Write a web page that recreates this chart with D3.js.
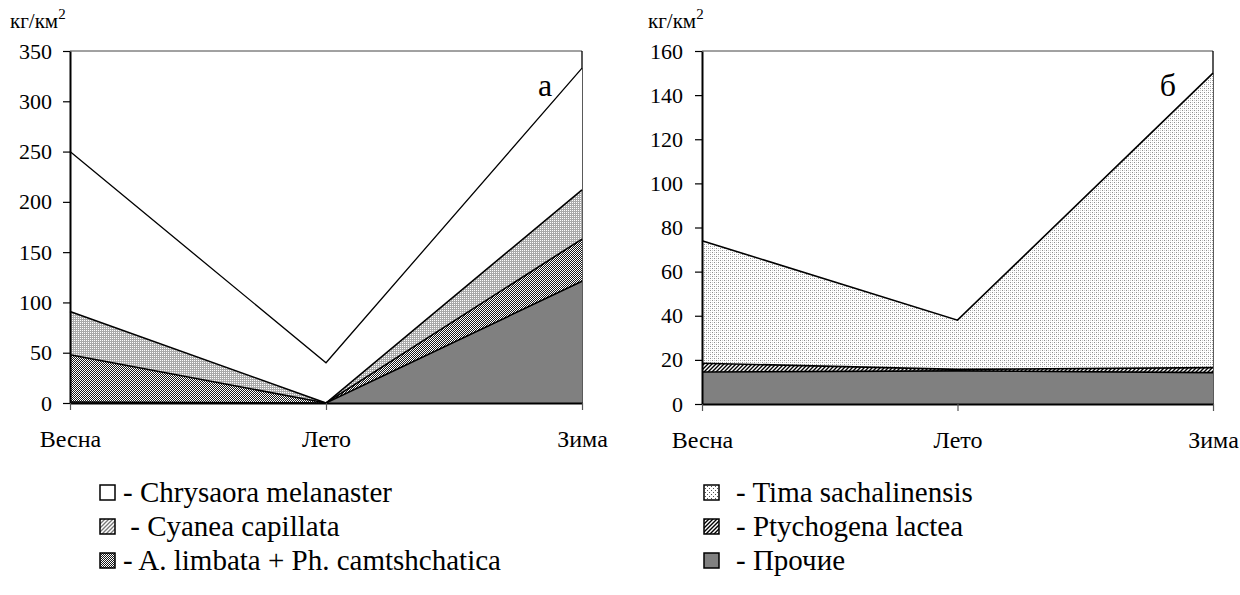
<!DOCTYPE html>
<html>
<head>
<meta charset="utf-8">
<script src="https://cdn.jsdelivr.net/npm/d3@7"></script>
<style>
  body { margin: 0; background: #fff; }
  svg { display: block; }
  text { font-family: "Liberation Serif", "Times New Roman", serif; fill: #000; }
</style>
</head>
<body>
<svg id="chart" width="1240" height="595" font-family="Liberation Serif, serif"></svg>
<script>
// Seasons on the category axis
const seasons = ["Весна", "Лето", "Зима"];

// Panel "а": biomass by group, kg/km² (stacked bottom → top)
const otherA     = [1, 0, 121];
const limbata    = [47, 0, 42];
const cyanea     = [43, 0, 49];
const chrysaora  = [159, 40, 121];
const ticksA     = [0, 50, 100, 150, 200, 250, 300, 350];

// Panel "б": biomass by group, kg/km² (stacked bottom → top)
const otherB     = [14.5, 15, 14.2];
const ptychogena = [4, 0.7, 2.3];
const tima       = [55.5, 22.3, 133.5];
const ticksB     = [0, 20, 40, 60, 80, 100, 120, 140, 160];

const legendA = ["- Chrysaora melanaster", " - Cyanea capillata", "- A. limbata + Ph. camtshchatica"];
const legendB = ["- Tima sachalinensis", "- Ptychogena lactea", "- Прочие"];

const svg = d3.select("#chart");
const defs = svg.append("defs");

// Fill patterns
function pattern(id, size, draw) {
  const p = defs.append("pattern").attr("id", id)
    .attr("patternUnits", "userSpaceOnUse")
    .attr("width", size).attr("height", size);
  draw(p);
}
function px(p, x, y, c) {
  p.append("rect").attr("x", x).attr("y", y).attr("width", 1).attr("height", 1)
    .attr("fill", c).attr("shape-rendering", "crispEdges");
}
pattern("fCyanea", 2, p => {
  p.append("rect").attr("width", 2).attr("height", 2).attr("fill", "#a9a9a9");
  px(p, 0, 0, "#ffffff");
});
pattern("fLimbata", 2, p => {
  p.append("rect").attr("width", 2).attr("height", 2).attr("fill", "#1a1a1a");
  px(p, 0, 0, "#ffffff");
  px(p, 1, 1, "#ffffff");
});
pattern("fTima", 4, p => {
  p.append("rect").attr("width", 4).attr("height", 4).attr("fill", "#ffffff");
  px(p, 0, 0, "#8e8e8e");
  px(p, 2, 2, "#8e8e8e");
  px(p, 2, 0, "#cccccc");
  px(p, 0, 2, "#cccccc");
});
pattern("fPtych", 4, p => {
  p.append("rect").attr("width", 4).attr("height", 4).attr("fill", "#ffffff");
  p.append("path").attr("d", "M-1,1 L1,-1 M0,4 L4,0 M3,5 L5,3")
    .attr("stroke", "#000").attr("stroke-width", 1.4);
});
pattern("fCyaneaIcon", 4, p => {
  p.append("rect").attr("width", 4).attr("height", 4).attr("fill", "#ffffff");
  p.append("path").attr("d", "M-1,1 L1,-1 M0,4 L4,0 M3,5 L5,3")
    .attr("stroke", "#777").attr("stroke-width", 1.3);
});
pattern("fTimaIcon", 4, p => {
  p.append("rect").attr("width", 4).attr("height", 4).attr("fill", "#ffffff");
  px(p, 1, 0, "#555");
  px(p, 3, 2, "#555");
});

const SERIF = "Liberation Serif, Times New Roman, serif";

function panel(cfg) {
  const g = svg.append("g");
  const x = d3.scalePoint().domain(seasons).range([cfg.x0, cfg.x1]);
  const y = d3.scaleLinear().domain([0, cfg.max]).range([cfg.y0, cfg.y1]);

  const rows = seasons.map((s, i) => {
    const r = { season: s };
    cfg.series.forEach(se => { r[se.key] = se.values[i]; });
    return r;
  });
  const stack = d3.stack().keys(cfg.series.map(s => s.key));
  const layers = stack(rows);

  const area = d3.area()
    .x(d => x(d.data.season))
    .y0(d => y(d[0]))
    .y1(d => y(d[1]));
  const top = d3.line()
    .x(d => x(d.data.season))
    .y(d => y(d[1]));

  // plot frame (top and right edges)
  g.append("line").attr("x1", cfg.x0).attr("x2", cfg.x1)
    .attr("y1", y(cfg.max)).attr("y2", y(cfg.max))
    .attr("stroke", "#444").attr("stroke-width", 1);
  g.append("line").attr("x1", cfg.x1).attr("x2", cfg.x1)
    .attr("y1", y(cfg.max)).attr("y2", cfg.y0)
    .attr("stroke", "#000").attr("stroke-width", 1.3);

  layers.forEach((L, i) => {
    g.append("path").datum(L).attr("d", area)
      .attr("fill", cfg.series[i].fill).attr("stroke", "none");
  });
  layers.forEach((L, i) => {
    g.append("path").datum(L).attr("d", top)
      .attr("fill", "none").attr("stroke", "#000")
      .attr("stroke-width", cfg.series[i].lw || 1.6)
      .attr("stroke-linejoin", "miter");
  });

  // value axis
  const ay = g.append("g").attr("transform", `translate(${cfg.x0},0)`)
    .call(d3.axisLeft(y).tickValues(cfg.ticks).tickSize(7).tickSizeOuter(0).tickPadding(cfg.pad));
  ay.attr("font-family", SERIF).attr("font-size", 22);
  ay.select(".domain").attr("stroke", "#000").attr("stroke-width", 2);
  ay.selectAll(".tick line").attr("stroke", "#000").attr("stroke-width", 1.2);

  // category axis
  const ax = g.append("g").attr("transform", `translate(0,${cfg.y0})`)
    .call(d3.axisBottom(x).tickSize(7).tickSizeOuter(0).tickPadding(20));
  ax.attr("font-family", SERIF).attr("font-size", 24);
  ax.select(".domain").attr("stroke", "#000").attr("stroke-width", 2);
  ax.selectAll(".tick line").attr("stroke", "#555").attr("stroke-width", 1.2);

  // unit label
  const u = g.append("text").attr("x", cfg.ux).attr("y", 28).attr("font-size", 21)
    .attr("font-family", SERIF);
  u.append("tspan").text("кг/км");
  u.append("tspan").attr("dy", -9).attr("font-size", 15).text("2");

  // panel letter
  g.append("text").attr("x", cfg.lx).attr("y", 96).attr("font-size", 32)
    .attr("font-family", SERIF).attr("text-anchor", "middle").text(cfg.letter);

  // legend
  cfg.legend.forEach((t, i) => {
    const by = 502 + i * 34;
    g.append("rect").attr("x", cfg.iconX).attr("y", by - 17).attr("width", 15).attr("height", 15)
      .attr("fill", cfg.iconFills[i]).attr("stroke", "#000").attr("stroke-width", 1.5);
    g.append("text").attr("x", cfg.textX).attr("y", by).attr("font-size", 29)
      .attr("font-family", SERIF)
      .attr("xml:space", "preserve").style("white-space", "pre").text(t);
  });
}

panel({
  x0: 70, x1: 582, y0: 403, y1: 51, max: 350, ticks: ticksA, pad: 11,
  ux: 10, lx: 545, letter: "а",
  series: [
    { key: "other", values: otherA, fill: "#808080" },
    { key: "limbata", values: limbata, fill: "url(#fLimbata)" },
    { key: "cyanea", values: cyanea, fill: "url(#fCyanea)" },
    { key: "chrysaora", values: chrysaora, fill: "#ffffff", lw: 1.3 }
  ],
  legend: legendA, iconX: 100, textX: 123,
  iconFills: ["#ffffff", "url(#fCyaneaIcon)", "url(#fLimbata)"]
});

panel({
  x0: 702, x1: 1213, y0: 404, y1: 51, max: 160, ticks: ticksB, pad: 12,
  ux: 648, lx: 1168, letter: "б",
  series: [
    { key: "other", values: otherB, fill: "#808080" },
    { key: "ptychogena", values: ptychogena, fill: "url(#fPtych)" },
    { key: "tima", values: tima, fill: "url(#fTima)" }
  ],
  legend: legendB, iconX: 704, textX: 736,
  iconFills: ["url(#fTimaIcon)", "url(#fPtych)", "#808080"]
});
</script>
</body>
</html>
